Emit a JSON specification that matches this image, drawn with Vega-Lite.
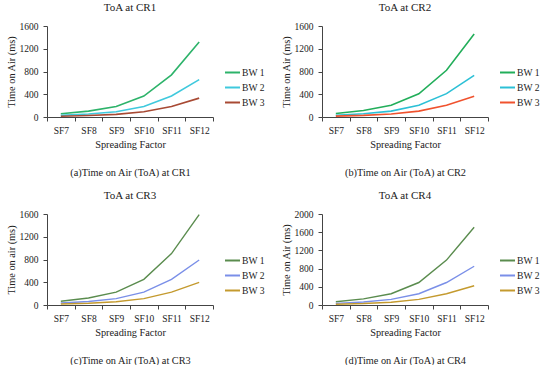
{
  "$schema": "https://vega.github.io/schema/vega-lite/v6.json",
  "background": "white",
  "padding": {"left": 6, "top": 2, "right": 60, "bottom": 0},
  "columns": 2,
  "spacing": {"row": 12, "column": 16},
  "config": {
    "font": "Liberation Serif",
    "view": {"stroke": null},
    "title": {"font": "Liberation Serif", "fontSize": 11, "fontWeight": "normal", "color": "#222", "offset": 8},
    "axis": {
      "labelFont": "Liberation Serif", "titleFont": "Liberation Serif",
      "labelFontSize": 9.5, "titleFontSize": 10.3, "titleFontWeight": "normal",
      "labelColor": "#222", "titleColor": "#222",
      "domainColor": "#444", "tickColor": "#444", "tickSize": 4,
      "grid": false
    },
    "legend": {"labelFont": "Liberation Serif", "labelFontSize": 9.6, "labelColor": "#222"}
  },
  "datasets": {
    "cr1": [
      {"sf": "SF7", "bw": "BW 1", "toa": 56}, {"sf": "SF8", "bw": "BW 1", "toa": 103}, {"sf": "SF9", "bw": "BW 1", "toa": 185}, {"sf": "SF10", "bw": "BW 1", "toa": 368}, {"sf": "SF11", "bw": "BW 1", "toa": 742}, {"sf": "SF12", "bw": "BW 1", "toa": 1319},
      {"sf": "SF7", "bw": "BW 2", "toa": 28}, {"sf": "SF8", "bw": "BW 2", "toa": 52}, {"sf": "SF9", "bw": "BW 2", "toa": 93}, {"sf": "SF10", "bw": "BW 2", "toa": 185}, {"sf": "SF11", "bw": "BW 2", "toa": 370}, {"sf": "SF12", "bw": "BW 2", "toa": 658},
      {"sf": "SF7", "bw": "BW 3", "toa": 14}, {"sf": "SF8", "bw": "BW 3", "toa": 26}, {"sf": "SF9", "bw": "BW 3", "toa": 46}, {"sf": "SF10", "bw": "BW 3", "toa": 93}, {"sf": "SF11", "bw": "BW 3", "toa": 185}, {"sf": "SF12", "bw": "BW 3", "toa": 332}
    ],
    "cr2": [
      {"sf": "SF7", "bw": "BW 1", "toa": 62}, {"sf": "SF8", "bw": "BW 1", "toa": 113}, {"sf": "SF9", "bw": "BW 1", "toa": 206}, {"sf": "SF10", "bw": "BW 1", "toa": 409}, {"sf": "SF11", "bw": "BW 1", "toa": 822}, {"sf": "SF12", "bw": "BW 1", "toa": 1458},
      {"sf": "SF7", "bw": "BW 2", "toa": 31}, {"sf": "SF8", "bw": "BW 2", "toa": 57}, {"sf": "SF9", "bw": "BW 2", "toa": 103}, {"sf": "SF10", "bw": "BW 2", "toa": 206}, {"sf": "SF11", "bw": "BW 2", "toa": 411}, {"sf": "SF12", "bw": "BW 2", "toa": 732},
      {"sf": "SF7", "bw": "BW 3", "toa": 16}, {"sf": "SF8", "bw": "BW 3", "toa": 28}, {"sf": "SF9", "bw": "BW 3", "toa": 52}, {"sf": "SF10", "bw": "BW 3", "toa": 103}, {"sf": "SF11", "bw": "BW 3", "toa": 206}, {"sf": "SF12", "bw": "BW 3", "toa": 363}
    ],
    "cr3": [
      {"sf": "SF7", "bw": "BW 1", "toa": 67}, {"sf": "SF8", "bw": "BW 1", "toa": 123}, {"sf": "SF9", "bw": "BW 1", "toa": 226}, {"sf": "SF10", "bw": "BW 1", "toa": 452}, {"sf": "SF11", "bw": "BW 1", "toa": 904}, {"sf": "SF12", "bw": "BW 1", "toa": 1588},
      {"sf": "SF7", "bw": "BW 2", "toa": 34}, {"sf": "SF8", "bw": "BW 2", "toa": 62}, {"sf": "SF9", "bw": "BW 2", "toa": 113}, {"sf": "SF10", "bw": "BW 2", "toa": 226}, {"sf": "SF11", "bw": "BW 2", "toa": 452}, {"sf": "SF12", "bw": "BW 2", "toa": 792},
      {"sf": "SF7", "bw": "BW 3", "toa": 17}, {"sf": "SF8", "bw": "BW 3", "toa": 31}, {"sf": "SF9", "bw": "BW 3", "toa": 57}, {"sf": "SF10", "bw": "BW 3", "toa": 113}, {"sf": "SF11", "bw": "BW 3", "toa": 226}, {"sf": "SF12", "bw": "BW 3", "toa": 398}
    ],
    "cr4": [
      {"sf": "SF7", "bw": "BW 1", "toa": 73}, {"sf": "SF8", "bw": "BW 1", "toa": 134}, {"sf": "SF9", "bw": "BW 1", "toa": 247}, {"sf": "SF10", "bw": "BW 1", "toa": 494}, {"sf": "SF11", "bw": "BW 1", "toa": 987}, {"sf": "SF12", "bw": "BW 1", "toa": 1710},
      {"sf": "SF7", "bw": "BW 2", "toa": 36}, {"sf": "SF8", "bw": "BW 2", "toa": 67}, {"sf": "SF9", "bw": "BW 2", "toa": 123}, {"sf": "SF10", "bw": "BW 2", "toa": 247}, {"sf": "SF11", "bw": "BW 2", "toa": 494}, {"sf": "SF12", "bw": "BW 2", "toa": 852},
      {"sf": "SF7", "bw": "BW 3", "toa": 18}, {"sf": "SF8", "bw": "BW 3", "toa": 33}, {"sf": "SF9", "bw": "BW 3", "toa": 62}, {"sf": "SF10", "bw": "BW 3", "toa": 123}, {"sf": "SF11", "bw": "BW 3", "toa": 247}, {"sf": "SF12", "bw": "BW 3", "toa": 424}
    ]
  },
  "resolve": {"scale": {"color": "independent", "y": "independent", "x": "independent"}, "legend": {"color": "independent"}},
  "concat": [
    {
      "title": "ToA at CR1",
      "width": 166, "height": 91,
      "data": {"name": "cr1"},
      "mark": {"type": "line", "strokeWidth": 1.6},
      "encoding": {
        "x": {"field": "sf", "type": "ordinal", "sort": ["SF7", "SF8", "SF9", "SF10", "SF11", "SF12"], "scale": {"type": "band", "paddingInner": 0, "paddingOuter": 0},
          "axis": {"labelAngle": 0, "tickBand": "extent", "labelPadding": 4, "titlePadding": 5, "titleLineHeight": 28, "titleFontWeight": "normal", "title": ["Spreading Factor", "(a)Time on Air (ToA) at CR1"]}},
        "y": {"field": "toa", "type": "quantitative", "scale": {"domain": [0, 1600], "nice": false},
          "axis": {"values": [0, 400, 800, 1200, 1600], "format": "d", "title": "Time on Air (ms)", "titleFontWeight": "normal", "labelPadding": 5, "titlePadding": 3}},
        "color": {"field": "bw", "type": "nominal", "scale": {"domain": ["BW 1", "BW 2", "BW 3"], "range": ["#2DB36A", "#3FC9DD", "#A84A34"]},
          "legend": {"title": null, "orient": "none", "legendX": 177, "legendY": 38, "symbolType": "stroke", "symbolSize": 225, "symbolStrokeWidth": 2, "rowPadding": 1, "labelOffset": 1}}
      }
    },
    {
      "title": "ToA at CR2",
      "width": 166, "height": 91,
      "data": {"name": "cr2"},
      "mark": {"type": "line", "strokeWidth": 1.6},
      "encoding": {
        "x": {"field": "sf", "type": "ordinal", "sort": ["SF7", "SF8", "SF9", "SF10", "SF11", "SF12"], "scale": {"type": "band", "paddingInner": 0, "paddingOuter": 0},
          "axis": {"labelAngle": 0, "tickBand": "extent", "labelPadding": 4, "titlePadding": 5, "titleLineHeight": 28, "titleFontWeight": "normal", "title": ["Spreading Factor", "(b)Time on Air (ToA) at CR2"]}},
        "y": {"field": "toa", "type": "quantitative", "scale": {"domain": [0, 1600], "nice": false},
          "axis": {"values": [0, 400, 800, 1200, 1600], "format": "d", "title": "Time on Air (ms)", "titleFontWeight": "normal", "labelPadding": 5, "titlePadding": 3}},
        "color": {"field": "bw", "type": "nominal", "scale": {"domain": ["BW 1", "BW 2", "BW 3"], "range": ["#22AE5A", "#2CC0D6", "#F0522E"]},
          "legend": {"title": null, "orient": "none", "legendX": 177, "legendY": 38, "symbolType": "stroke", "symbolSize": 225, "symbolStrokeWidth": 2, "rowPadding": 1, "labelOffset": 1}}
      }
    },
    {
      "title": "ToA at CR3",
      "width": 166, "height": 91,
      "data": {"name": "cr3"},
      "mark": {"type": "line", "strokeWidth": 1.4},
      "encoding": {
        "x": {"field": "sf", "type": "ordinal", "sort": ["SF7", "SF8", "SF9", "SF10", "SF11", "SF12"], "scale": {"type": "band", "paddingInner": 0, "paddingOuter": 0},
          "axis": {"labelAngle": 0, "tickBand": "extent", "labelPadding": 4, "titlePadding": 5, "titleLineHeight": 28, "titleFontWeight": "normal", "title": ["Spreading Factor", "(c)Time on Air (ToA) at CR3"]}},
        "y": {"field": "toa", "type": "quantitative", "scale": {"domain": [0, 1600], "nice": false},
          "axis": {"values": [0, 400, 800, 1200, 1600], "format": "d", "title": "Time on air (ms)", "titleFontWeight": "normal", "labelPadding": 5, "titlePadding": 3}},
        "color": {"field": "bw", "type": "nominal", "scale": {"domain": ["BW 1", "BW 2", "BW 3"], "range": ["#5A8C4E", "#7A8FE8", "#C49A2E"]},
          "legend": {"title": null, "orient": "none", "legendX": 177, "legendY": 38, "symbolType": "stroke", "symbolSize": 225, "symbolStrokeWidth": 2, "rowPadding": 1, "labelOffset": 1}}
      }
    },
    {
      "title": "ToA at CR4",
      "width": 166, "height": 91,
      "data": {"name": "cr4"},
      "mark": {"type": "line", "strokeWidth": 1.4},
      "encoding": {
        "x": {"field": "sf", "type": "ordinal", "sort": ["SF7", "SF8", "SF9", "SF10", "SF11", "SF12"], "scale": {"type": "band", "paddingInner": 0, "paddingOuter": 0},
          "axis": {"labelAngle": 0, "tickBand": "extent", "labelPadding": 4, "titlePadding": 5, "titleLineHeight": 28, "titleFontWeight": "normal", "title": ["Spreading Factor", "(d)Time on Air (ToA) at CR4"]}},
        "y": {"field": "toa", "type": "quantitative", "scale": {"domain": [0, 2000], "nice": false},
          "axis": {"values": [0, 400, 800, 1200, 1600, 2000], "format": "d", "title": "Time on Air (ms)", "titleFontWeight": "normal", "labelPadding": 5, "titlePadding": 3}},
        "color": {"field": "bw", "type": "nominal", "scale": {"domain": ["BW 1", "BW 2", "BW 3"], "range": ["#5A8C4E", "#7A8FE8", "#C49A2E"]},
          "legend": {"title": null, "orient": "none", "legendX": 177, "legendY": 38, "symbolType": "stroke", "symbolSize": 225, "symbolStrokeWidth": 2, "rowPadding": 1, "labelOffset": 1}}
      }
    }
  ]
}
